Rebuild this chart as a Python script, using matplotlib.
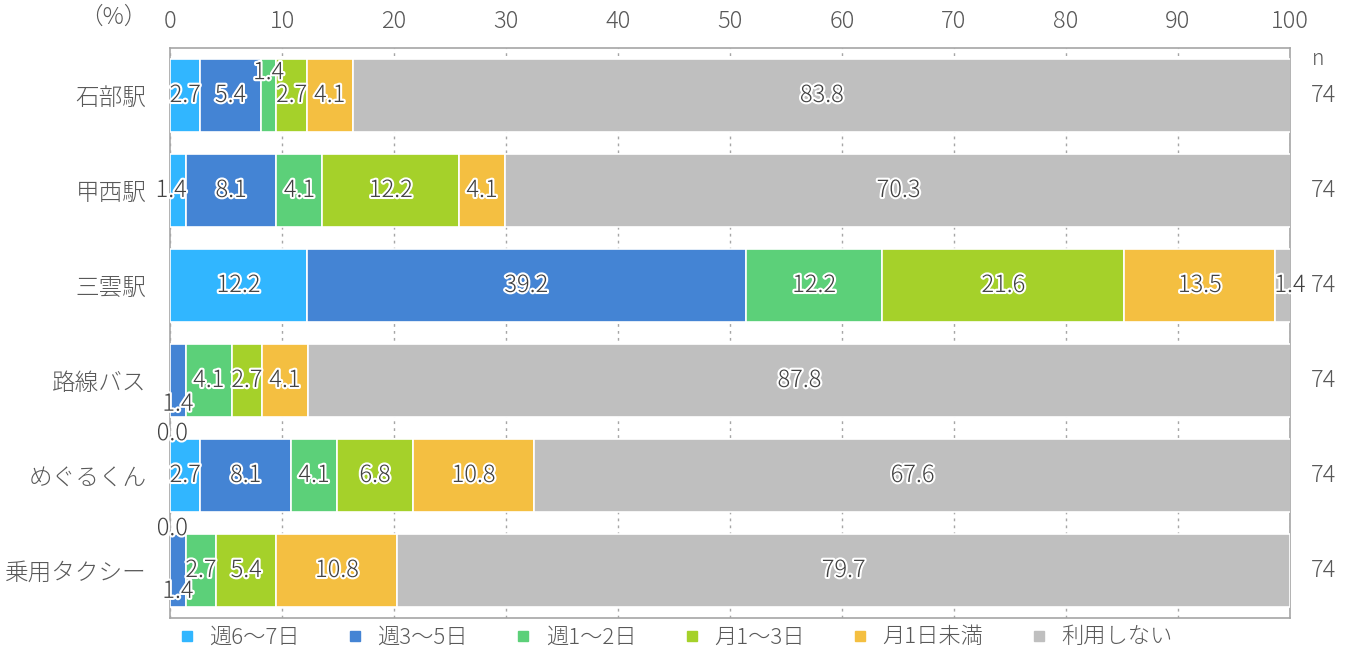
#交通手段の利用頻度 (帯グラフ)

import numpy as np
import matplotlib.pyplot as plt
import matplotlib.patheffects as pe
from matplotlib.lines import Line2D

plt.rcParams['font.family'] = ['Noto Sans CJK JP', 'DejaVu Sans']
plt.rcParams['font.weight'] = 'light'

categories = ['石部駅', '甲西駅', '三雲駅', '路線バス', 'めぐるくん', '乗用タクシー']
series = ['週6～7日', '週3～5日', '週1～2日', '月1～3日', '月1日未満', '利用しない']
values = [
    [2.7, 1.4, 12.2, 0.0, 2.7, 0.0],     # 週6～7日
    [5.4, 8.1, 39.2, 1.4, 8.1, 1.4],     # 週3～5日
    [1.4, 4.1, 12.2, 4.1, 4.1, 2.7],     # 週1～2日
    [2.7, 12.2, 21.6, 2.7, 6.8, 5.4],    # 月1～3日
    [4.1, 4.1, 13.5, 4.1, 10.8, 10.8],   # 月1日未満
    [83.8, 70.3, 1.4, 87.8, 67.6, 79.7], # 利用しない
]
n_values = [74, 74, 74, 74, 74, 74]
colors = ['#31B6FF', '#4484D4', '#5CD079', '#A5D12A', '#F4BF41', '#BFBFBF']

# 小さい値のラベルの位置ずらし (series, category) -> (dx, dy)
label_shift = {
    (0, 1): (-0.6, 0.0),
    (2, 0): (0.0, -0.24),
    (0, 3): (0.2, 0.56),
    (1, 3): (0.0, 0.25),
    (0, 5): (0.2, -0.44),
    (1, 5): (0.0, 0.22),
    (5, 2): (0.6, 0.0),
}

txt_col = '#595959'
fig = plt.figure(figsize=(13.54, 6.57), dpi=100)
ax = fig.add_axes([0.1256, 0.0594, 0.8271, 0.8676])

y = np.arange(len(categories))
left = np.zeros(len(categories))
for i, s in enumerate(series):
    v = np.array(values[i])
    ax.barh(y, v, left=left, height=0.76, color=colors[i], edgecolor='white',
            linewidth=1.2, label=s, zorder=3)
    for j in range(len(categories)):
        dx, dy = label_shift.get((i, j), (0, 0))
        t = ax.text(left[j] + v[j] / 2 + dx, y[j] + dy, f'{v[j]:.1f}',
                    ha='center', va='center', fontsize=17, color='#404040', zorder=5)
        t.set_path_effects([pe.withStroke(linewidth=3, foreground='white')])
    left = left + v

ax.set_xlim(0, 100)
ax.set_ylim(5.5, -0.5)
ax.set_yticks(y)
ax.set_yticklabels(categories, fontsize=17, color=txt_col)
ax.set_xticks(np.arange(0, 101, 10))
ax.xaxis.tick_top()
ax.tick_params(axis='x', labelsize=17, colors=txt_col, length=0, pad=10)
ax.tick_params(axis='y', length=0, pad=17)
ax.grid(axis='x', color='#A6A6A6', linestyle=(0, (2, 3)), linewidth=1, zorder=0)
for sp in ax.spines.values():
    sp.set_color('#A6A6A6')
    sp.set_linewidth(1.2)

ax.annotate('（%）', xy=(0, 1), xycoords='axes fraction', xytext=(-16, 22),
            textcoords='offset points', ha='right', va='center',
            fontsize=17, color=txt_col)

ax.text(1.025, -0.5, 'n', transform=ax.get_yaxis_transform(), ha='center',
        va='top', fontsize=15, color=txt_col)
for j, n in enumerate(n_values):
    ax.text(1.03, y[j], str(n), transform=ax.get_yaxis_transform(), ha='center',
            va='center', fontsize=17, color=txt_col)

handles = [Line2D([], [], marker='s', linestyle='none', markersize=7,
                  markerfacecolor=c, markeredgecolor=c) for c in colors]
ax.legend(handles, series, loc='center', bbox_to_anchor=(0.445, -0.034),
          ncol=6, frameon=False, fontsize=16, handletextpad=0.0,
          columnspacing=1.5, labelcolor=txt_col, borderpad=0)

plt.savefig('out.png')
